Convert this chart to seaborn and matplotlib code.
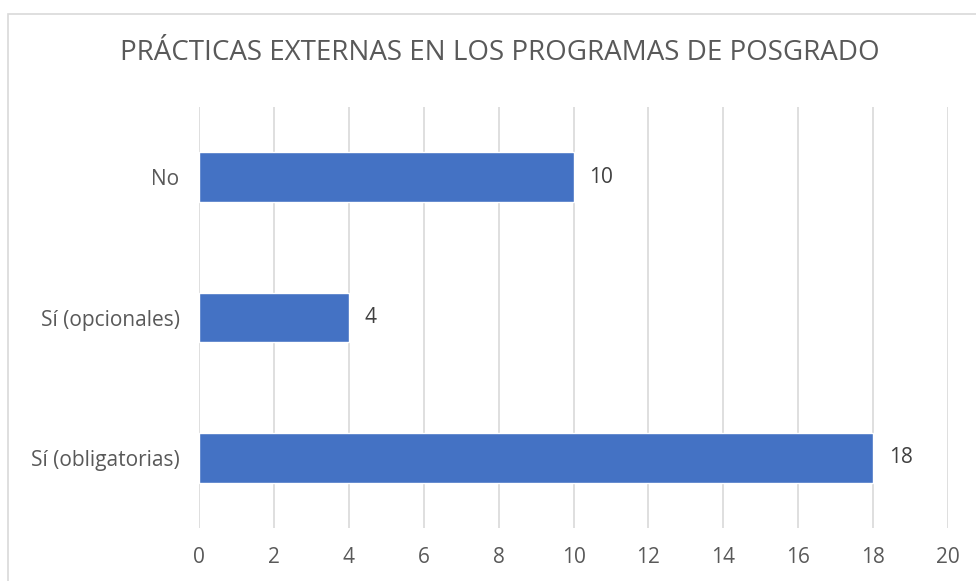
import matplotlib
matplotlib.use('Agg')
import matplotlib.pyplot as plt
from matplotlib.patches import Rectangle
import pandas as pd
import seaborn as sns

categorias = ['No', 'Sí (opcionales)', 'Sí (obligatorias)']
valores = [10, 4, 18]
ticks_x = [0, 2, 4, 6, 8, 10, 12, 14, 16, 18, 20]

df = pd.DataFrame({'categoria': categorias, 'valor': valores})

sns.set_style('white')
plt.rcParams['font.family'] = ['Open Sans', 'DejaVu Sans']

fig = plt.figure(figsize=(9.76, 5.81), dpi=100)
ax = fig.add_axes([199 / 976, 1 - 528 / 581, 749 / 976, 421 / 581])

sns.barplot(data=df, y='categoria', x='valor', order=categorias,
            color='#4472C4', saturation=1, width=0.356, ax=ax)

ax.set_xlim(0, 20)
ax.set_xticks(ticks_x)
ax.xaxis.grid(True, color='#d9d9d9', linewidth=1.2)
ax.set_axisbelow(True)
for s in ax.spines.values():
    s.set_visible(False)
ax.tick_params(axis='x', length=0, pad=14, labelsize=15, labelcolor='#595959')
ax.tick_params(axis='y', length=0, pad=14, labelsize=15, labelcolor='#595959')
ax.set_xlabel('')
ax.set_ylabel('')

for i, v in enumerate(valores):
    ax.annotate(str(v), xy=(v, i), xytext=(16, 0), textcoords='offset pixels',
                va='center', ha='left', fontsize=15, color='#404040')

fig.text(0.512, 1 - 53 / 581, 'PRÁCTICAS EXTERNAS EN LOS PROGRAMAS DE POSGRADO',
         ha='center', va='center', fontsize=20, color='#595959')

fig.patches.append(Rectangle((8 / 976, -0.1), 1.2, 0.1 + (1 - 14 / 581),
                             transform=fig.transFigure, fill=False,
                             edgecolor='#d9d9d9', linewidth=1.2))

fig.savefig('out.png', dpi=100)
